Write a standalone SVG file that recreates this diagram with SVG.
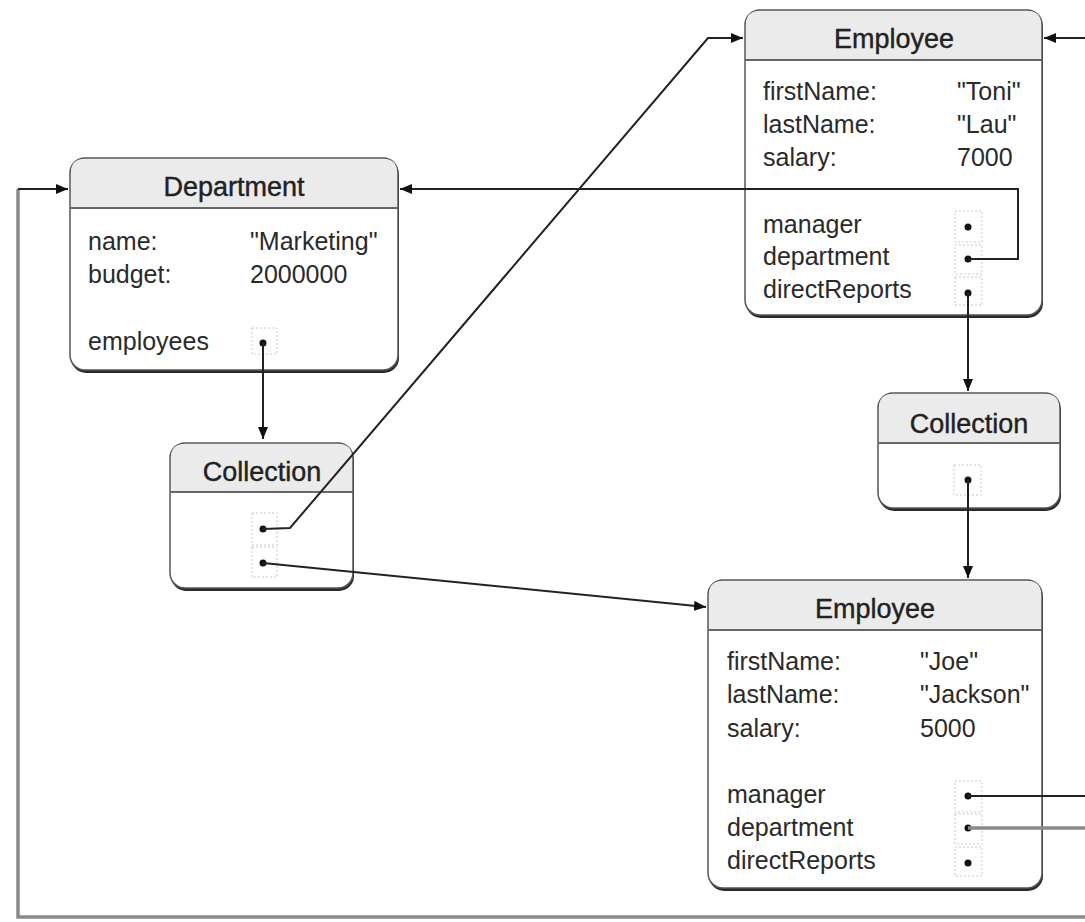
<svg xmlns="http://www.w3.org/2000/svg" width="1085" height="922" viewBox="0 0 1085 922">
<style>
  .shadow { fill: #2a2a2a; }
  .body { fill: #ffffff; stroke: #555; stroke-width: 1.5; }
  .head { fill: #ebebeb; stroke: none; }
  .sep { stroke: #666; stroke-width: 2; }
  .title { font-family: "Liberation Sans", Arial, sans-serif; font-size: 27px; fill: #222; text-anchor: middle; stroke: #222; stroke-width: 0.4; }
  .txt { font-family: "Liberation Sans", Arial, sans-serif; font-size: 25px; fill: #2a2a2a; }
  .slot { fill: none; stroke: #c8c8c8; stroke-width: 1; stroke-dasharray: 2 2; }
  .dot { fill: #111; }
  .conn { fill: none; stroke: #222; stroke-width: 2; }
  .conn-grey { fill: none; stroke: #8a8a8a; stroke-width: 3.5; }
</style>
<defs>
  <marker id="arrow" markerUnits="userSpaceOnUse" markerWidth="12" markerHeight="10" refX="12" refY="5" orient="auto">
    <path d="M0,0 L12,5 L0,10 Z" fill="#111"/>
  </marker>
</defs>
<rect x="0" y="0" width="1085" height="922" fill="#ffffff"/>

<g id="department">
  <rect class="shadow" x="71" y="161" width="328" height="212" rx="15"/>
  <rect class="body" x="70" y="158" width="328" height="212" rx="15"/>
  <path class="head" d="M71,208 L71,172 Q71,159 85,159 L383,159 Q397,159 397,172 L397,208 Z"/>
  <line class="sep" x1="70" y1="208" x2="398" y2="208"/>
  <text class="title" x="234" y="196">Department</text>
  <text class="txt" x="88" y="250">name:</text>
  <text class="txt" x="250" y="250">"Marketing"</text>
  <text class="txt" x="88" y="283">budget:</text>
  <text class="txt" x="250" y="283">2000000</text>
  <text class="txt" x="88" y="350">employees</text>
  <rect class="slot" x="252" y="328" width="25" height="26"/>
  <circle class="dot" cx="263" cy="343" r="3.5"/>
</g>

<g id="collection-left">
  <rect class="shadow" x="171" y="446" width="183" height="145" rx="15"/>
  <rect class="body" x="170" y="443" width="183" height="145" rx="15"/>
  <path class="head" d="M171,492 L171,457 Q171,444 185,444 L338,444 Q352,444 352,457 L352,492 Z"/>
  <line class="sep" x1="170" y1="492" x2="353" y2="492"/>
  <text class="title" x="262" y="481">Collection</text>
  <rect class="slot" x="252" y="513" width="25" height="32"/>
  <rect class="slot" x="252" y="547" width="25" height="30"/>
  <circle class="dot" cx="263" cy="529" r="3.5"/>
  <circle class="dot" cx="263" cy="563" r="3.5"/>
</g>

<g id="employee-toni">
  <rect class="shadow" x="746" y="13" width="297" height="305" rx="15"/>
  <rect class="body" x="745" y="10" width="297" height="305" rx="15"/>
  <path class="head" d="M746,60 L746,24 Q746,11 760,11 L1027,11 Q1041,11 1041,24 L1041,60 Z"/>
  <line class="sep" x1="745" y1="60" x2="1042" y2="60"/>
  <text class="title" x="894" y="48">Employee</text>
  <text class="txt" x="763" y="100">firstName:</text>
  <text class="txt" x="957" y="100">"Toni"</text>
  <text class="txt" x="763" y="133">lastName:</text>
  <text class="txt" x="957" y="133">"Lau"</text>
  <text class="txt" x="763" y="166">salary:</text>
  <text class="txt" x="957" y="166">7000</text>
  <text class="txt" x="763" y="233">manager</text>
  <text class="txt" x="763" y="265">department</text>
  <text class="txt" x="763" y="298">directReports</text>
  <rect class="slot" x="955" y="211" width="27" height="31"/>
  <rect class="slot" x="955" y="245" width="27" height="29"/>
  <rect class="slot" x="955" y="277" width="27" height="28"/>
  <circle class="dot" cx="968" cy="227" r="3.5"/>
  <circle class="dot" cx="968" cy="259" r="3.5"/>
  <circle class="dot" cx="968" cy="293" r="3.5"/>
</g>

<g id="collection-right">
  <rect class="shadow" x="879" y="396" width="182" height="115" rx="15"/>
  <rect class="body" x="878" y="393" width="182" height="115" rx="15"/>
  <path class="head" d="M879,443 L879,407 Q879,394 893,394 L1045,394 Q1059,394 1059,407 L1059,443 Z"/>
  <line class="sep" x1="878" y1="443" x2="1060" y2="443"/>
  <text class="title" x="969" y="433">Collection</text>
  <rect class="slot" x="954" y="465" width="27" height="30"/>
  <circle class="dot" cx="968" cy="480" r="3.5"/>
</g>

<g id="employee-joe">
  <rect class="shadow" x="709" y="583" width="334" height="308" rx="15"/>
  <rect class="body" x="708" y="580" width="334" height="308" rx="15"/>
  <path class="head" d="M709,630 L709,594 Q709,581 723,581 L1027,581 Q1041,581 1041,594 L1041,630 Z"/>
  <line class="sep" x1="708" y1="630" x2="1042" y2="630"/>
  <text class="title" x="875" y="618">Employee</text>
  <text class="txt" x="727" y="670">firstName:</text>
  <text class="txt" x="920" y="670">"Joe"</text>
  <text class="txt" x="727" y="703">lastName:</text>
  <text class="txt" x="920" y="703">"Jackson"</text>
  <text class="txt" x="727" y="737">salary:</text>
  <text class="txt" x="920" y="737">5000</text>
  <text class="txt" x="727" y="803">manager</text>
  <text class="txt" x="727" y="836">department</text>
  <text class="txt" x="727" y="869">directReports</text>
  <rect class="slot" x="955" y="781" width="27" height="31"/>
  <rect class="slot" x="955" y="814" width="27" height="30"/>
  <rect class="slot" x="955" y="847" width="27" height="29"/>
  <circle class="dot" cx="968" cy="796" r="3.5"/>
  <circle class="dot" cx="968" cy="828" r="3.5"/>
  <circle class="dot" cx="968" cy="863" r="3.5"/>
</g>

<g id="connectors">
  <path class="conn-grey" d="M1085,917 L18,917 L18,189"/>
  <path class="conn" d="M18,189 L68,189" marker-end="url(#arrow)"/>
  <path class="conn" d="M263,343 L263,439" marker-end="url(#arrow)"/>
  <path class="conn" d="M263,529 L290,528 L708,38 L743,38" marker-end="url(#arrow)"/>
  <path class="conn" d="M263,563 L706,607" marker-end="url(#arrow)"/>
  <path class="conn" d="M1085,38 L1044,38" marker-end="url(#arrow)"/>
  <path class="conn" d="M968,259 L1018,259 L1018,189 L400,189" marker-end="url(#arrow)"/>
  <path class="conn" d="M968,293 L968,391" marker-end="url(#arrow)"/>
  <path class="conn" d="M968,480 L968,578" marker-end="url(#arrow)"/>
  <path class="conn" d="M968,796 L1085,796"/>
  <path class="conn-grey" d="M968,828 L1085,828"/>
</g>
</svg>
